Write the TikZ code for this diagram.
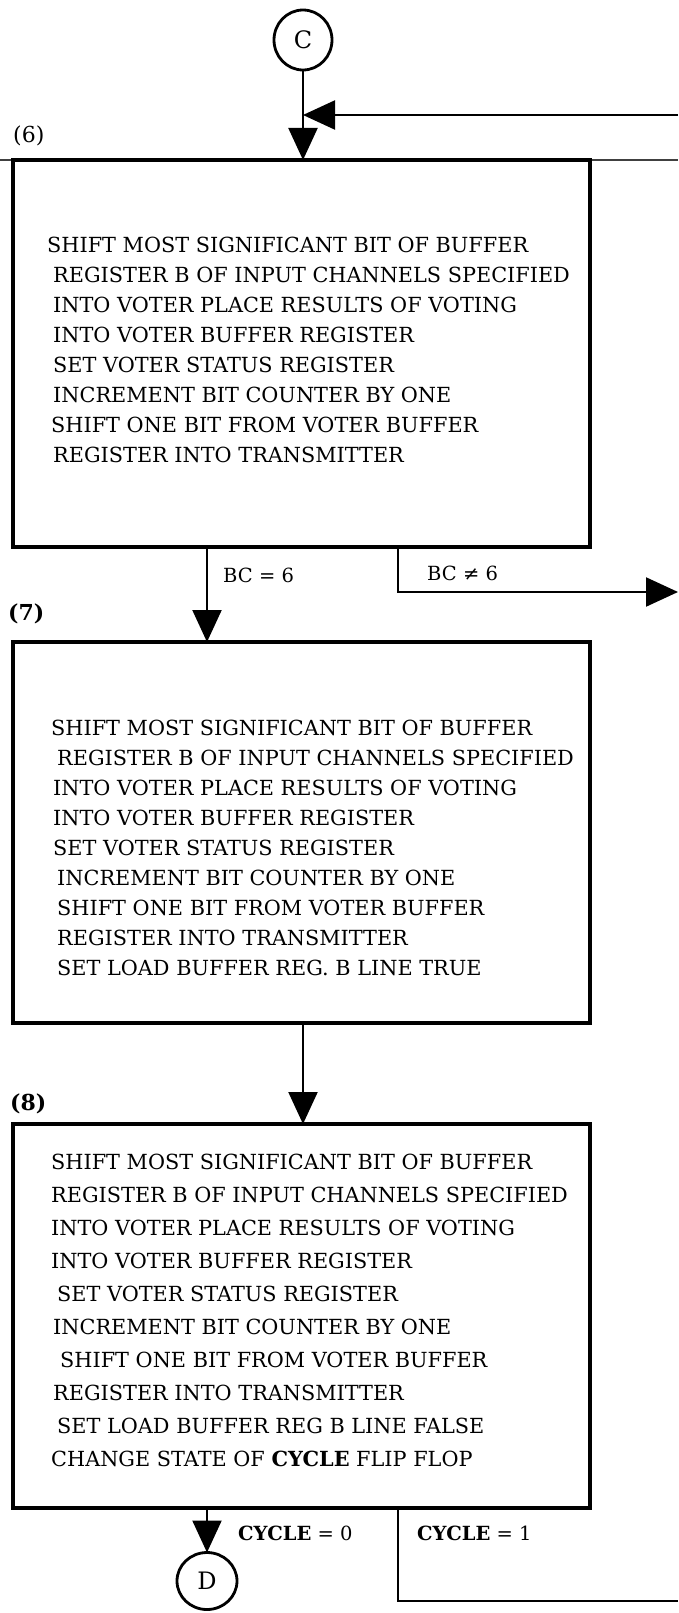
\documentclass[tikz,border=0pt]{standalone}
\usepackage{fontspec}
\setmainfont{DejaVu Serif}
\usetikzlibrary{arrows.meta,shapes.geometric}
\begin{document}
\begin{tikzpicture}[x=1pt,y=-1pt,
  stepbox/.style={draw, line width=3.4pt, inner sep=0pt, outer sep=0pt, anchor=north west,
                  minimum width=577pt},
  conn/.style={draw, ellipse, line width=2.8pt, inner sep=0pt, outer sep=0pt,
               font=\fontsize{24}{24}\selectfont},
  flow/.style={line width=2.2pt, -{Triangle[length=32pt,width=29pt]}},
  plain/.style={line width=2.2pt},
  txt/.style={anchor=base west, inner sep=0pt, font=\fontsize{20.8}{20.8}\selectfont},
  lbl/.style={anchor=base west, inner sep=0pt, font=\fontsize{19.5}{19.5}\selectfont},
  num/.style={anchor=base west, inner sep=0pt, font=\fontsize{22}{22}\selectfont}]
\useasboundingbox (0,0) rectangle (678,1613);
\fill[white] (0,0) rectangle (678,1613);

% faint rule across the sheet at the level of the first box
\draw[line width=1.2pt, black!75] (0,160) -- (678,160);

% off-page connectors
\node[conn, minimum width=58pt, minimum height=60pt] (cC) at (303,40) {C};
\node[conn, minimum width=60pt, minimum height=57pt] (cD) at (207,1581) {D};

% process boxes
\node[stepbox, minimum height=387pt] (b6) at (13,160) {};
\node[stepbox, minimum height=381pt] (b7) at (13,642) {};
\node[stepbox, minimum height=384pt] (b8) at (13,1124) {};

% step numbers
\node[num] (n6) at (13,143) {(6)};
\node[num] (n7) at (8,620) {\textbf{(7)}};
\node[num] (n8) at (10,1110) {\textbf{(8)}};

% step 6 actions
\foreach \xx/\yy/\tt [count=\i] in {
  47/252/SHIFT MOST SIGNIFICANT BIT OF BUFFER,
  53/282/REGISTER B OF INPUT CHANNELS SPECIFIED,
  53/312/INTO VOTER PLACE RESULTS OF VOTING,
  53/342/INTO VOTER BUFFER REGISTER,
  53/372/SET VOTER STATUS REGISTER,
  53/402/INCREMENT BIT COUNTER BY ONE,
  51/432/SHIFT ONE BIT FROM VOTER BUFFER,
  53/462/REGISTER INTO TRANSMITTER}
  \node[txt] (s6-\i) at (\xx,\yy) {\tt};

% step 7 actions
\foreach \xx/\yy/\tt [count=\i] in {
  51/735/SHIFT MOST SIGNIFICANT BIT OF BUFFER,
  57/765/REGISTER B OF INPUT CHANNELS SPECIFIED,
  53/795/INTO VOTER PLACE RESULTS OF VOTING,
  53/825/INTO VOTER BUFFER REGISTER,
  53/855/SET VOTER STATUS REGISTER,
  57/885/INCREMENT BIT COUNTER BY ONE,
  57/915/SHIFT ONE BIT FROM VOTER BUFFER,
  57/945/REGISTER INTO TRANSMITTER,
  57/975/SET LOAD BUFFER REG. B LINE TRUE}
  \node[txt] (s7-\i) at (\xx,\yy) {\tt};

% step 8 actions
\foreach \xx/\yy/\tt [count=\i] in {
  51/1169/SHIFT MOST SIGNIFICANT BIT OF BUFFER,
  51/1202/REGISTER B OF INPUT CHANNELS SPECIFIED,
  51/1235/INTO VOTER PLACE RESULTS OF VOTING,
  51/1268/INTO VOTER BUFFER REGISTER,
  57/1301/SET VOTER STATUS REGISTER,
  53/1334/INCREMENT BIT COUNTER BY ONE,
  60/1367/SHIFT ONE BIT FROM VOTER BUFFER,
  53/1400/REGISTER INTO TRANSMITTER,
  57/1433/SET LOAD BUFFER REG B LINE FALSE,
  51/1466/CHANGE STATE OF \textbf{CYCLE} FLIP FLOP}
  \node[txt] (s8-\i) at (\xx,\yy) {\tt};

% branch columns and sheet exits
\coordinate (colA) at (207,0);
\coordinate (colB) at (398,0);
\coordinate (colC) at (303,0);
\coordinate (ret) at (678,115);
\coordinate (out6) at (678,592);
\coordinate (out8) at (678,1601);

% flow lines
\draw[flow] (cC.south) -- (cC.south |- b6.north);
\draw[flow] (ret) -- (ret -| cC.south);
\draw[flow] (colA |- b6.south) -- (colA |- b7.north);
\draw[flow] (colB |- b6.south) |- (out6);
\draw[flow] (colC |- b7.south) -- (colC |- b8.north);
\draw[flow] (cD.north |- b8.south) -- (cD.north);
\draw[plain] (colB |- b8.south) |- (out8);

% branch conditions
\node[lbl] (l1) at (223,582) {BC = 6};
\node[lbl] (l2) at (427,580) {BC ≠ 6};
\node[lbl] (l3) at (238,1540) {\textbf{CYCLE} = 0};
\node[lbl] (l4) at (417,1540) {\textbf{CYCLE} = 1};
\end{tikzpicture}
\end{document}
